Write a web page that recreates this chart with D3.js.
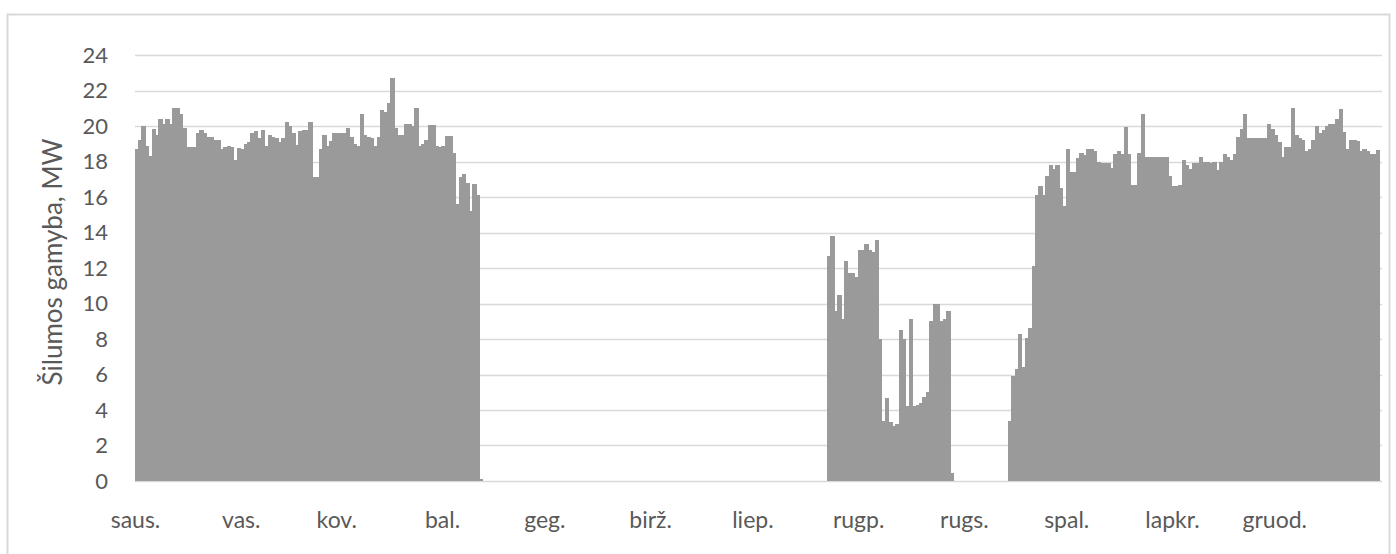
<!DOCTYPE html>
<html lang="lt">

<head>
  <meta charset="UTF-8">
  <script src="https://cdn.jsdelivr.net/npm/d3@7"></script>
  <title>Šilumos gamyba</title>
  <style>
    body {
      margin: 0;
      background: #fff;
    }

    text {
      font-family: Lato, "Open Sans", sans-serif;
      fill: #595959;
    }
  </style>
</head>

<body>
  <script>
    // month labels on the x axis
    const monthLabels = ["saus.", "vas.", "kov.", "bal.", "geg.", "birž.", "liep.", "rugp.", "rugs.", "spal.", "lapkr.", "gruod."];
    const yTicks = [0, 2, 4, 6, 8, 10, 12, 14, 16, 18, 20, 22, 24];

    // daily heat production, MW
    const winterStart = "2019-01-01";
    const winterValues = [
      18.7, 19.2, 20.0, 18.85, 18.3, 19.85, 19.5, 20.4, 20.1, 20.4,
      20.1, 21.0, 21.0, 20.7, 19.9, 18.8, 18.8, 18.8, 19.6, 19.8,
      19.6, 19.4, 19.4, 19.2, 19.2, 18.7, 18.8, 18.85, 18.8, 18.1,
      18.75, 18.7, 19.0, 19.1, 19.6, 19.7, 19.3, 19.75, 18.85, 19.5,
      19.4, 19.3, 19.1, 19.3, 20.2, 20.0, 19.6, 18.95, 19.7, 19.8,
      19.8, 20.2, 17.1, 17.1, 18.7, 19.5, 18.85, 19.15, 19.6, 19.6,
      19.6, 19.6, 19.9, 19.4, 19.0, 18.85, 20.7, 19.5, 19.4, 19.3,
      18.85, 19.4, 20.9, 20.8, 21.3, 22.7, 19.9, 19.5, 19.5, 20.1,
      20.1, 20.0, 21.0, 18.9, 19.0, 19.2, 20.05, 20.05, 18.85, 18.8,
      18.85, 19.45, 19.45, 18.5, 15.6, 17.1, 17.3, 16.8, 15.2, 16.75,
      16.1, 0.1
    ];
    const summerStart = "2019-07-23";
    const summerValues = [
      12.7, 13.8, 9.6, 10.5, 9.1, 12.4, 11.7, 11.7, 11.5, 13.0,
      13.0, 13.35, 13.0, 12.9, 13.55, 8.0, 3.4, 4.7, 3.3, 3.1,
      3.2, 8.5, 8.0, 4.2, 9.1, 4.2, 4.3, 4.4, 4.75, 5.0,
      9.0, 10.0, 10.0, 9.0, 9.15, 9.6, 0.45
    ];
    const autumnStart = "2019-09-14";
    const autumnValues = [
      3.4, 5.9, 6.3, 8.3, 6.45, 8.05, 8.6, 12.1, 16.1, 16.6,
      16.1, 17.2, 17.8, 17.6, 17.8, 16.5, 15.5, 18.7, 17.4, 17.4,
      18.2, 18.5, 18.35, 18.7, 18.7, 18.6, 18.0, 17.9, 17.9, 17.9,
      17.65, 18.45, 18.6, 18.4, 19.95, 18.4, 16.7, 16.7, 18.5, 20.7,
      18.25, 18.25, 18.25, 18.25, 18.25, 18.25, 18.25, 17.2, 16.6, 16.6,
      16.7, 18.1, 17.8, 17.55, 17.9, 17.9, 18.25, 17.95, 18.0, 17.9,
      18.0, 17.5, 17.95, 18.4, 18.25, 18.1, 18.4, 19.4, 19.85, 20.7,
      19.3, 19.3, 19.35, 19.35, 19.3, 19.3, 20.1, 19.85, 19.5, 19.1,
      18.25, 18.8, 18.8, 21.0, 19.5, 19.3, 19.2, 18.6, 18.7, 19.2,
      20.0, 19.6, 19.75, 20.0, 20.1, 20.1, 20.4, 20.95, 19.65, 18.7,
      19.2, 19.2, 19.15, 18.6, 18.7, 18.6, 18.45, 18.45, 18.65
    ];

    const width = 1396;
    const height = 554;
    const plot = { left: 135, right: 1380, top: 55, bottom: 481 };

    const parse = d3.utcParse("%Y-%m-%d");
    function toDays(start, values) {
      const t0 = parse(start);
      return values.map((v, i) => ({ date: d3.utcDay.offset(t0, i), value: v }));
    }
    const data = [].concat(
      toDays(winterStart, winterValues),
      toDays(summerStart, summerValues),
      toDays(autumnStart, autumnValues)
    );

    const x = d3.scaleUtc()
      .domain([parse("2019-01-01"), parse("2020-01-01")])
      .range([plot.left, plot.right]);
    const y = d3.scaleLinear()
      .domain([0, 24])
      .range([plot.bottom, plot.top]);

    const svg = d3.select("body").append("svg")
      .attr("width", width)
      .attr("height", height);

    // chart area border
    svg.append("rect")
      .attr("x", 7.5).attr("y", 14.5)
      .attr("width", 1382).attr("height", 560)
      .attr("fill", "none")
      .attr("stroke", "#d9d9d9")
      .attr("stroke-width", 2);

    // gridlines
    svg.append("g").attr("class", "grid")
      .selectAll("line")
      .data(yTicks)
      .join("line")
      .attr("x1", plot.left).attr("x2", plot.right + 2)
      .attr("y1", d => Math.round(y(d)) + 0.5)
      .attr("y2", d => Math.round(y(d)) + 0.5)
      .attr("stroke", "#d9d9d9")
      .attr("stroke-width", 1.5);

    // bars (crisp, slightly overlapping so no seams show)
    svg.append("g").attr("class", "bars")
      .attr("shape-rendering", "crispEdges")
      .selectAll("rect")
      .data(data)
      .join("rect")
      .attr("x", d => Math.floor(x(d.date)))
      .attr("width", d => Math.ceil(x(d3.utcDay.offset(d.date, 1))) - Math.floor(x(d.date)))
      .attr("y", d => y(d.value))
      .attr("height", d => y(0) - y(d.value))
      .attr("fill", "#9a9a9a");

    // y axis
    const yAxis = d3.axisLeft(y).tickValues(yTicks).tickSize(0).tickPadding(27);
    svg.append("g")
      .attr("transform", `translate(${plot.left},0)`)
      .call(yAxis)
      .call(g => g.select(".domain").remove())
      .selectAll("text")
      .style("font-size", "22px")
      .attr("fill", "#595959");

    // x axis, one label per month of 2019
    const xAxis = d3.axisBottom(x)
      .tickValues(d3.utcMonths(parse("2019-01-01"), parse("2019-12-31")))
      .tickSize(0)
      .tickPadding(31)
      .tickFormat(d => monthLabels[d.getUTCMonth()]);
    svg.append("g")
      .attr("transform", `translate(0,${plot.bottom})`)
      .call(xAxis)
      .call(g => g.select(".domain").remove())
      .selectAll("text")
      .style("font-size", "23px")
      .attr("fill", "#595959");

    // axis title
    svg.append("text")
      .attr("transform", `translate(${62},${(plot.top + plot.bottom) / 2 - 6}) rotate(-90)`)
      .attr("text-anchor", "middle")
      .style("font-size", "26px")
      .text("Šilumos gamyba, MW");
  </script>
</body>

</html>
